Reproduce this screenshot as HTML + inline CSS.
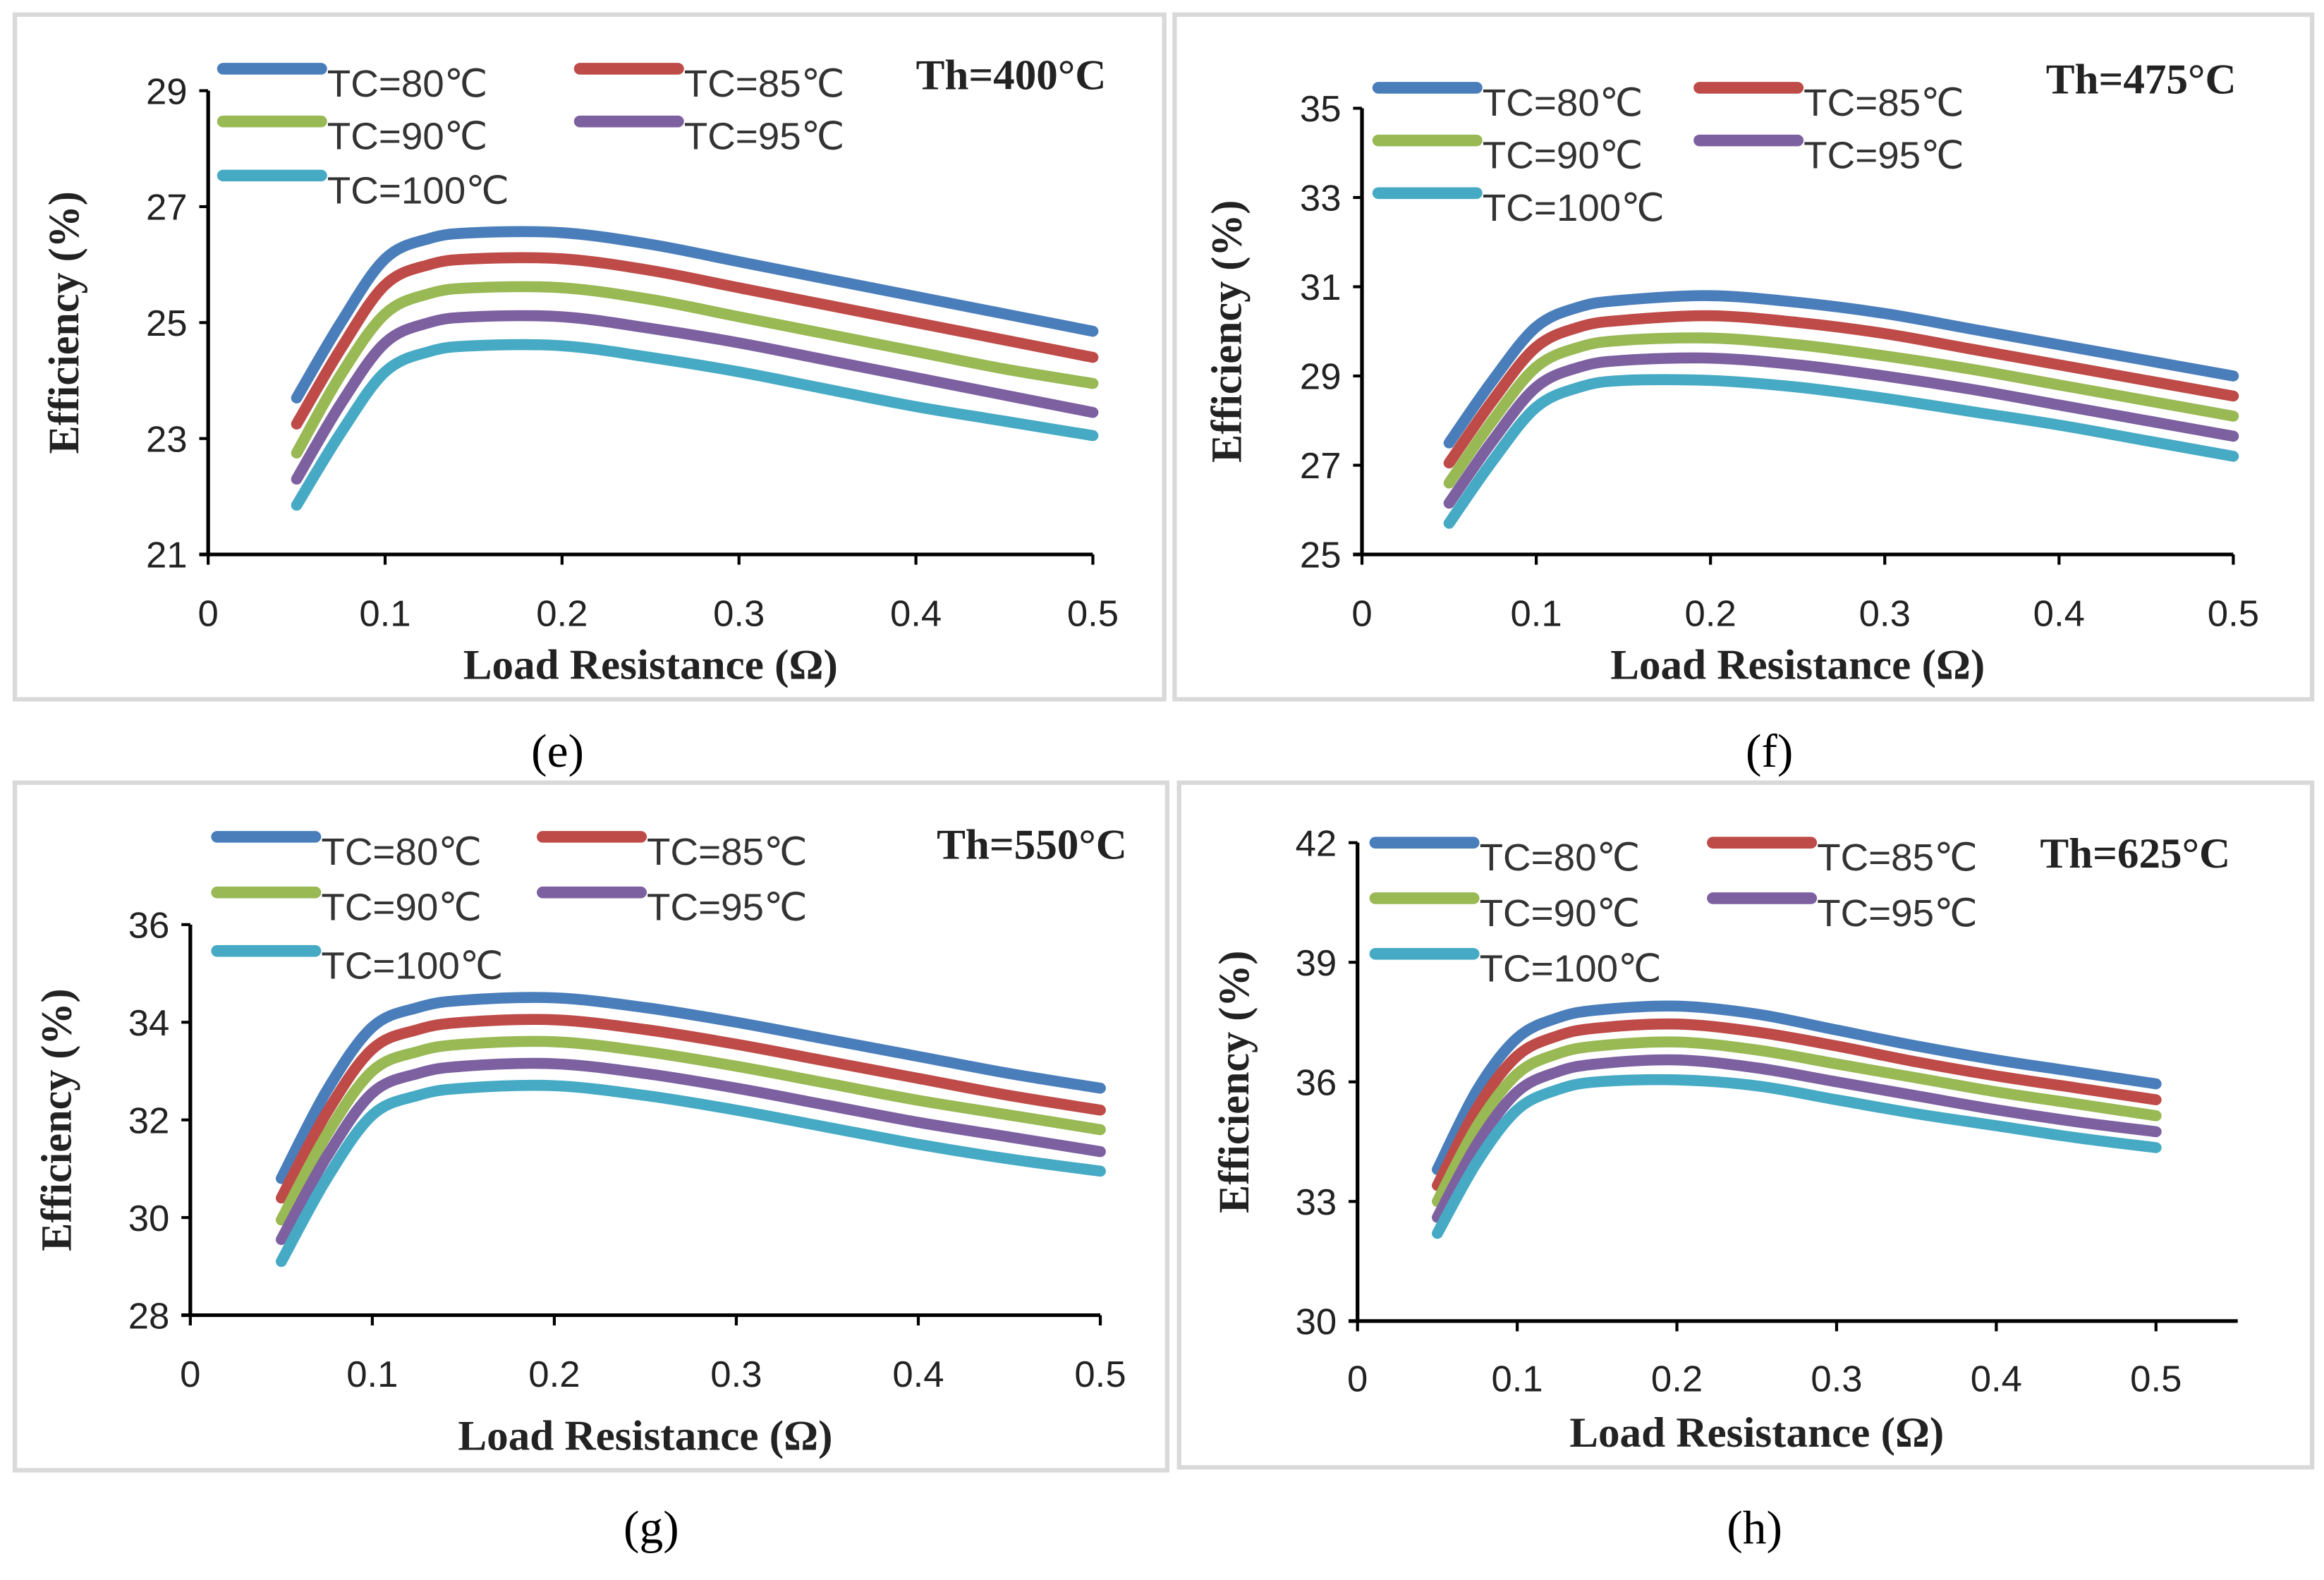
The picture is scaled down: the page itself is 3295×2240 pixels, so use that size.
<!DOCTYPE html>
<html><head><meta charset="utf-8"><style>
html,body{margin:0;padding:0;background:#fff;width:3295px;height:2240px;overflow:hidden}
svg{display:block}
</style></head><body>
<svg id="fig" width="3295" height="2240" viewBox="0 0 1563 1080" preserveAspectRatio="none" xmlns="http://www.w3.org/2000/svg"></svg>
<script>
const xValues = [0.05,0.075,0.1,0.125,0.15,0.2,0.25,0.3,0.35,0.4,0.45,0.5];
const seriesLabels = ["TC=80℃","TC=85℃","TC=90℃","TC=95℃","TC=100℃"];
const xTicks = [0,0.1,0.2,0.3,0.4,0.5];
const eTicks = [21,23,25,27,29];
const fTicks = [25,27,29,31,33,35];
const gTicks = [28,30,32,34,36];
const hTicks = [30,33,36,39,42];
const e80=[23.7,25.0,26.1,26.45,26.55,26.55,26.35,26.05,25.75,25.45,25.15,24.85];
const e85=[23.25,24.55,25.65,26.0,26.1,26.1,25.9,25.6,25.3,25.0,24.7,24.4];
const e90=[22.75,24.1,25.15,25.5,25.6,25.6,25.4,25.1,24.8,24.5,24.2,23.95];
const e95=[22.3,23.6,24.65,25.0,25.1,25.1,24.9,24.65,24.35,24.05,23.75,23.45];
const e100=[21.85,23.1,24.15,24.5,24.6,24.6,24.4,24.15,23.85,23.55,23.3,23.05];
const f80=[27.5,28.9,30.1,30.55,30.7,30.8,30.65,30.4,30.05,29.7,29.35,29.0];
const f85=[27.05,28.45,29.65,30.1,30.25,30.35,30.2,29.95,29.6,29.25,28.9,28.55];
const f90=[26.6,28.0,29.2,29.65,29.8,29.85,29.7,29.45,29.15,28.8,28.45,28.1];
const f95=[26.15,27.55,28.75,29.2,29.35,29.4,29.25,29.0,28.7,28.35,28.0,27.65];
const f100=[25.7,27.1,28.3,28.75,28.9,28.9,28.75,28.5,28.2,27.9,27.55,27.2];
const g80=[30.8,32.6,33.9,34.3,34.45,34.5,34.3,34.0,33.65,33.3,32.95,32.65];
const g85=[30.4,32.15,33.45,33.85,34.0,34.05,33.85,33.55,33.2,32.85,32.5,32.2];
const g90=[29.95,31.7,33.0,33.4,33.55,33.6,33.4,33.1,32.75,32.4,32.1,31.8];
const g95=[29.55,31.25,32.55,32.95,33.1,33.15,32.95,32.65,32.3,31.95,31.65,31.35];
const g100=[29.1,30.8,32.1,32.5,32.65,32.7,32.5,32.2,31.85,31.5,31.2,30.95];
const h80=[33.8,35.8,37.1,37.6,37.8,37.9,37.7,37.3,36.9,36.55,36.25,35.95];
const h85=[33.4,35.35,36.65,37.15,37.35,37.45,37.25,36.9,36.5,36.15,35.85,35.55];
const h90=[33.0,34.9,36.2,36.7,36.9,37.0,36.8,36.45,36.1,35.75,35.45,35.15];
const h95=[32.6,34.45,35.75,36.25,36.45,36.55,36.35,36.0,35.65,35.3,35.0,34.75];
const h100=[32.2,34.0,35.3,35.8,36.0,36.05,35.9,35.55,35.2,34.9,34.6,34.35];

const colors=["#4a7ebb","#be4b48","#98b954","#7d60a0","#46aac5"];
const NS="http://www.w3.org/2000/svg";
const svg=document.getElementById('fig');
function mk(tag,attrs,parent,text){const el=document.createElementNS(NS,tag);for(const k in attrs)el.setAttribute(k,attrs[k]);if(text!==undefined)el.textContent=text;(parent||svg).appendChild(el);return el;}

const panels=[
 {id:'e',frame:[10,10,773,468],x0:140,x5:735,xEnd:735,yTop:62,yBot:379,ticks:eTicks,data:[e80,e85,e90,e95,e100],
  leg:[[150,47],[390,47],[150,83],[390,83],[150,120]],th:"Th=400°C",thx:680,thy:61,cap:"(e)",capx:375,capy:524,xlY:428,xtY:464,ytX:46},
 {id:'f',frame:[790,10,765,468],x0:916,x5:1502,xEnd:1502,yTop:74,yBot:379,ticks:fTicks,data:[f80,f85,f90,f95,f100],
  leg:[[927,60],[1143,60],[927,96],[1143,96],[927,132]],th:"Th=475°C",thx:1440,thy:64,cap:"(f)",capx:1190,capy:524,xlY:428,xtY:464,ytX:828},
 {id:'g',frame:[10,535,775,470],x0:128,x5:740,xEnd:740,yTop:632,yBot:899,ticks:gTicks,data:[g80,g85,g90,g95,g100],
  leg:[[146,572],[365,572],[146,610],[365,610],[146,650]],th:"Th=550°C",thx:694,thy:587,cap:"(g)",capx:438,capy:1055,xlY:948,xtY:991,ytX:41},
 {id:'h',frame:[793,535,762,468],x0:913,x5:1450,xEnd:1505,yTop:576,yBot:903,ticks:hTicks,data:[h80,h85,h90,h95,h100],
  leg:[[925,576],[1152,576],[925,614],[1152,614],[925,652]],th:"Th=625°C",thx:1436,thy:593,cap:"(h)",capx:1180,capy:1055,xlY:951,xtY:989,ytX:833}
];

function smoothPath(pts){
  let d=`M${pts[0][0]},${pts[0][1]}`;
  for(let i=0;i<pts.length-1;i++){
    const p0=pts[i-1]||pts[i],p1=pts[i],p2=pts[i+1],p3=pts[i+2]||p2;
    const c1=[p1[0]+(p2[0]-p0[0])/6,p1[1]+(p2[1]-p0[1])/6];
    const c2=[p2[0]-(p3[0]-p1[0])/6,p2[1]-(p3[1]-p1[1])/6];
    d+=` C${c1[0]},${c1[1]} ${c2[0]},${c2[1]} ${p2[0]},${p2[1]}`;
  }
  return d;
}

panels.forEach(p=>{
  const g=mk('g',{});
  
  
  const fr=mk('rect',{x:p.frame[0],y:p.frame[1],width:p.frame[2],height:p.frame[3],fill:'#fff',stroke:'#d9d9d9','stroke-width':3},g);
  
  
  const lo=p.ticks[0],hi=p.ticks[p.ticks.length-1];
  const xs=v=>p.x0+(p.x5-p.x0)*v/0.5;
  const ys=v=>p.yBot-(p.yBot-p.yTop)*(v-lo)/(hi-lo);
  p.data.forEach((arr,si)=>{
    const pts=arr.map((v,i)=>[xs(xValues[i]),ys(v)]);
    const path=mk('path',{d:smoothPath(pts),fill:'none',stroke:colors[si],'stroke-width':7.5,'stroke-linecap':'round','stroke-linejoin':'round'},g);
    
    
  });
  const ya=mk('line',{x1:p.x0,y1:p.yTop,x2:p.x0,y2:p.yBot,stroke:'#000','stroke-width':2.5},g);
  
  
  const xa=mk('line',{x1:p.x0-6,y1:p.yBot,x2:p.xEnd,y2:p.yBot,stroke:'#000','stroke-width':2.5},g);
  
  
  p.ticks.forEach(t=>{
    mk('line',{x1:p.x0-6,y1:ys(t),x2:p.x0,y2:ys(t),stroke:'#000','stroke-width':2},g);
    const tl=mk('text',{x:p.x0-14,y:ys(t)+9,'text-anchor':'end','font-family':'Liberation Sans Narrow, Liberation Sans, sans-serif','font-size':25,fill:'#222'},g,String(t));
    
    
  });
  xTicks.forEach(t=>{
    mk('line',{x1:xs(t),y1:p.yBot,x2:xs(t),y2:p.yBot+7,stroke:'#000','stroke-width':2},g);
    const tl=mk('text',{x:xs(t),y:p.xlY,'text-anchor':'middle','font-family':'Liberation Sans Narrow, Liberation Sans, sans-serif','font-size':25,fill:'#222'},g,String(t));
    
    
  });
  const xt=mk('text',{x:(p.x0+p.x5)/2,y:p.xtY,'text-anchor':'middle','font-family':'Liberation Serif, serif','font-weight':'bold','font-size':29,fill:'#222'},g,'Load Resistance (Ω)');
  
  
  const cy=(p.yTop+p.yBot)/2;
  const yt=mk('text',{x:p.ytX,y:cy,'text-anchor':'middle','font-family':'Liberation Serif, serif','font-weight':'bold','font-size':29,fill:'#222',transform:`rotate(-90 ${p.ytX} ${cy})`,'dominant-baseline':'middle'},g,'Efficiency (%)');
  
  
  p.leg.forEach((L,si)=>{
    const lg=mk('g',{},g);
    
    
    mk('line',{x1:L[0],y1:L[1],x2:L[0]+66,y2:L[1],stroke:colors[si],'stroke-width':8,'stroke-linecap':'round'},lg);
    mk('text',{x:L[0]+70,y:L[1]+19,'font-family':'Liberation Sans Narrow, Liberation Sans, sans-serif','font-size':26,fill:'#333'},lg,seriesLabels[si]);
  });
  const th=mk('text',{x:p.thx,y:p.thy,'text-anchor':'middle','font-family':'Liberation Serif, serif','font-weight':'bold','font-size':29,fill:'#222'},g,p.th);
  
  
  const cap=mk('text',{x:p.capx,y:p.capy,'text-anchor':'middle','font-family':'Liberation Serif, serif','font-size':32,fill:'#000'},svg,p.cap);
  
  
});
</script>
</body></html>
